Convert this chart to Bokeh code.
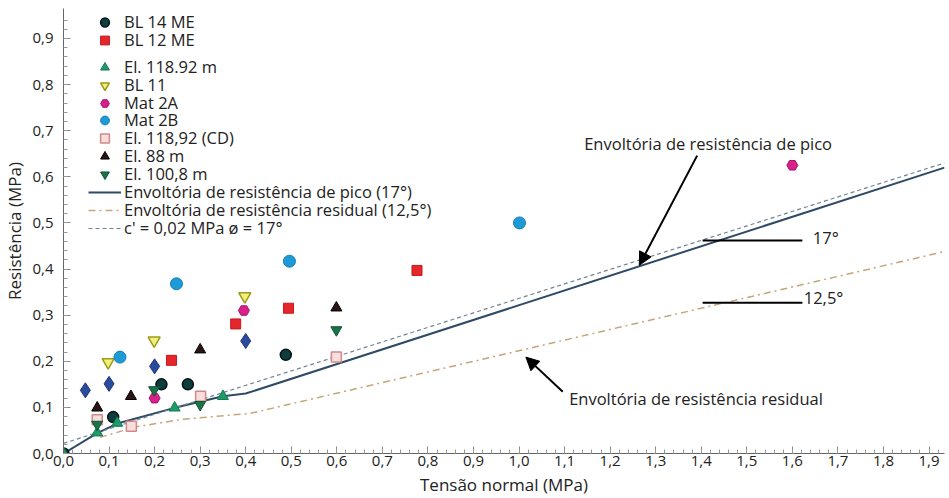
import numpy as np
from bokeh.plotting import figure
from bokeh.models import (Range1d, FixedTicker, CustomJSTickFormatter, Legend, LegendItem,
                          Arrow, NormalHead, Label)
from bokeh.embed import file_html
from bokeh.resources import INLINE

# ---------------- data ----------------
bl14_x = [0.0, 0.109, 0.215, 0.273, 0.488]
bl14_y = [0.0, 0.079, 0.150, 0.150, 0.214]
bl12_x = [0.237, 0.378, 0.494, 0.776]
bl12_y = [0.202, 0.281, 0.315, 0.397]
el118_x = [0.0, 0.074, 0.118, 0.244, 0.350]
el118_y = [0.0, 0.045, 0.066, 0.099, 0.124]
bl11_x = [0.098, 0.199, 0.398]
bl11_y = [0.198, 0.245, 0.341]
mat2a_x = [0.200, 0.396, 1.600]
mat2a_y = [0.120, 0.310, 0.625]
mat2b_x = [0.124, 0.248, 0.496, 1.001]
mat2b_y = [0.209, 0.368, 0.417, 0.500]
el118cd_x = [0.074, 0.149, 0.301, 0.599]
el118cd_y = [0.073, 0.059, 0.124, 0.209]
el88_x = [0.074, 0.148, 0.300, 0.599]
el88_y = [0.099, 0.124, 0.225, 0.316]
el100_x = [0.074, 0.199, 0.300, 0.599]
el100_y = [0.063, 0.138, 0.106, 0.268]
diam_x = [0.048, 0.100, 0.200, 0.400]
diam_y = [0.137, 0.151, 0.189, 0.244]

peak_x = [0.0, 0.074, 0.118, 0.244, 0.350, 0.400, 1.934]
peak_y = [0.0, 0.044, 0.065, 0.099, 0.124, 0.130, 0.620]
cfit_x = [0.0, 1.934]
cfit_y = [0.022, 0.630]
resid_x = [0.080, 0.160, 0.260, 0.410, 1.934]
resid_y = [0.035, 0.058, 0.074, 0.087, 0.438]

legend_labels = ["BL 14 ME", "BL 12 ME", "El. 118.92 m", "BL 11", "Mat 2A", "Mat 2B",
                 "El. 118,92 (CD)", "El. 88 m", "El. 100,8 m",
                 "Envoltória de resistência de pico (17°)",
                 "Envoltória de resistência residual (12,5°)",
                 "c' = 0,02 MPa ø = 17°"]

x_ticks = [round(0.1 * i, 1) for i in range(20)]
y_ticks = [round(0.1 * i, 1) for i in range(10)]

FONT = "Open Sans"
TXT = "#222222"

p = figure(width=949, height=498, x_range=Range1d(0, 1.934), y_range=Range1d(0, 0.965),
           output_backend="svg", toolbar_location=None,
           min_border_left=62, min_border_right=5, min_border_top=8, min_border_bottom=45)
p.outline_line_color = None
p.grid.grid_line_color = None
p.background_fill_color = "white"

# axes
fmt = CustomJSTickFormatter(code="return tick.toFixed(1).replace('.', ',');")
p.xaxis.ticker = FixedTicker(ticks=x_ticks, minor_ticks=list(np.round(np.arange(0, 1.94, 0.02), 3)))
p.yaxis.ticker = FixedTicker(ticks=y_ticks, minor_ticks=list(np.round(np.arange(0, 0.96, 0.02), 3)))
for ax in (p.xaxis[0], p.yaxis[0]):
    ax.formatter = fmt
    ax.axis_line_color = "#666666"
    ax.major_tick_line_color = "#888888"
    ax.minor_tick_line_color = "#999999"
    ax.major_tick_in = 7
    ax.major_tick_out = 0
    ax.minor_tick_in = 4
    ax.minor_tick_out = 0
    ax.major_label_text_font = FONT
    ax.major_label_text_font_size = "15px"
    ax.major_label_text_color = TXT
    ax.axis_label_text_font = FONT
    ax.axis_label_text_font_size = "17px"
    ax.axis_label_text_font_style = "normal"
    ax.axis_label_text_color = TXT
p.xaxis.major_label_standoff = 2
p.yaxis.major_label_standoff = 10
p.yaxis.axis_label = "Resistência (MPa)"
p.yaxis.axis_label_standoff = 3
p.xaxis.axis_label = "Tensão normal (MPa)"
p.xaxis.axis_label_standoff = 4

# envelopes
r_peak = p.line(peak_x, peak_y, line_color="#2e4a66", line_width=2)
r_resid = p.line(resid_x, resid_y, line_color="#c4a67a", line_width=1.5, line_dash="7 4 2 4")
r_cfit = p.line(cfit_x, cfit_y, line_color="#6f8494", line_width=1.2, line_dash="4 3")

# markers
r_diam = p.scatter(diam_x, diam_y, marker="diamond", size=15, fill_color="#2b4c9e", line_color="#1d3577")
r_bl14 = p.scatter(bl14_x, bl14_y, marker="circle", size=11, fill_color="#0f3c3c", line_color="#051515", line_width=1.5)
r_bl12 = p.scatter(bl12_x, bl12_y, marker="square", size=10, fill_color="#e5262a", line_color="#c21a1d")
r_el118 = p.scatter(el118_x, el118_y, marker="triangle", size=11, fill_color="#1f9a6a", line_color="#157a50")
r_bl11 = p.scatter(bl11_x, bl11_y, marker="inverted_triangle", size=12, fill_color="#f2f07a", line_color="#9c9a18", line_width=1.5)
r_mat2a = p.scatter(mat2a_x, mat2a_y, marker="hex", size=11, fill_color="#d8208a", line_color="#a8126a")
r_mat2b = p.scatter(mat2b_x, mat2b_y, marker="circle", size=12, fill_color="#1e9ad6", line_color="#147fb2")
r_cd = p.scatter(el118cd_x, el118cd_y, marker="square", size=10, fill_color="#f9dcdc", line_color="#d08a8a", line_width=1.5)
r_el88 = p.scatter(el88_x, el88_y, marker="triangle", size=11, fill_color="#2b1414", line_color="#000000")
r_el100 = p.scatter(el100_x, el100_y, marker="inverted_triangle", size=11, fill_color="#1b7248", line_color="#0f5434")

# legend: one single-row legend per entry so that the row pitch matches the reference
legend_renderers = [r_bl14, r_bl12, r_el118, r_bl11, r_mat2a, r_mat2b, r_cd, r_el88, r_el100,
                    r_peak, r_resid, r_cfit]
row_centers_px = [22, 40, 67, 85, 103, 120, 138, 156, 174, 192, 210, 228]  # from top of page
frame_bottom_px = 453
ROW_H = 22
for lab, rend, cy in zip(legend_labels, legend_renderers, row_centers_px):
    leg = Legend(items=[LegendItem(label=lab, renderers=[rend])],
                 location=(25, frame_bottom_px - (cy + ROW_H // 2)),
                 border_line_color=None, background_fill_alpha=0, padding=0, margin=0,
                 glyph_width=33, glyph_height=ROW_H, label_height=ROW_H, spacing=0, label_standoff=3,
                 label_text_font=FONT, label_text_font_size="16.5px", label_text_color=TXT)
    p.add_layout(leg)

# annotations
ann = dict(text_font=FONT, text_font_size="16.5px", text_color=TXT, text_baseline="middle")
p.add_layout(Label(x=1.143, y=0.672, text="Envoltória de resistência de pico", **ann))
p.add_layout(Arrow(x_start=1.391, y_start=0.646, x_end=1.264, y_end=0.408, line_width=2,
                   line_color="black", end=NormalHead(size=13, fill_color="black", line_color="black")))
p.segment(x0=[1.403, 1.403], y0=[0.462, 0.327], x1=[1.622, 1.622], y1=[0.462, 0.327],
          line_color="black", line_width=2)
p.add_layout(Label(x=1.645, y=0.469, text="17°", **ann))
p.add_layout(Label(x=1.625, y=0.339, text="12,5°", **ann))
p.add_layout(Label(x=1.110, y=0.119, text="Envoltória de resistência residual", **ann))
p.add_layout(Arrow(x_start=1.096, y_start=0.134, x_end=1.015, y_end=0.209, line_width=2,
                   line_color="black", end=NormalHead(size=13, fill_color="black", line_color="black")))

open("out.html", "w").write(file_html(p, INLINE))
